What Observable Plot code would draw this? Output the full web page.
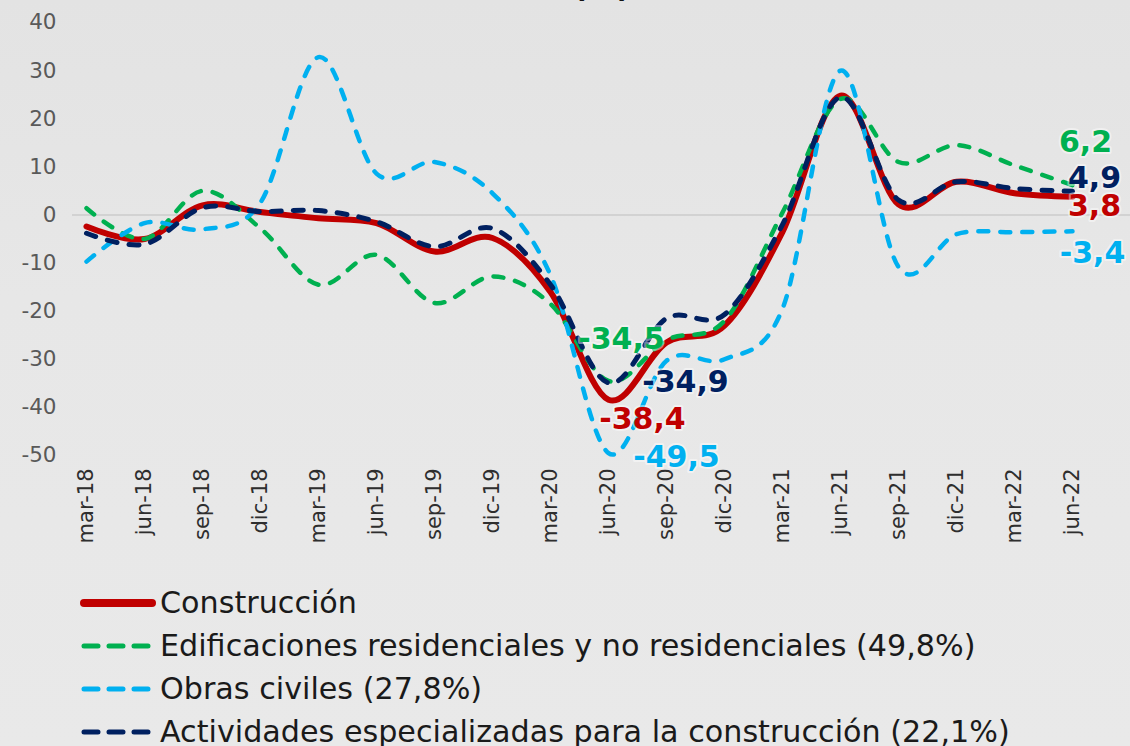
<!DOCTYPE html>
<html>
<head>
<meta charset="utf-8">
<script src="https://cdn.jsdelivr.net/npm/d3@7"></script>
<script src="https://cdn.jsdelivr.net/npm/@observablehq/plot@0.6"></script>
<style>
  html, body { margin: 0; padding: 0; }
  body {
    width: 1130px; height: 746px; overflow: hidden; position: relative;
    background: linear-gradient(180deg, #e3e3e3 0%, #e7e7e7 40%, #e9e9e9 100%);
    font-family: "DejaVu Sans", sans-serif;
  }
  #title { position: absolute; left: 573px; top: -28px; font-size: 30px; line-height: 30px; font-weight: bold; color: #111; }
  #chart { position: absolute; left: 0; top: 0; }
  #legend { position: absolute; left: 80px; top: 581px; }
  .row { display: flex; align-items: center; height: 43px; font-size: 30.2px; color: #1a1a1a; white-space: nowrap; }
  .row svg { margin-right: 4px; }
</style>
</head>
<body>
<div id="title">(%)</div>
<div id="chart"></div>
<div id="legend"></div>
<script>
// ---- data ----
const quarters = ["mar-18","jun-18","sep-18","dic-18","mar-19","jun-19","sep-19","dic-19","mar-20",
                  "jun-20","sep-20","dic-20","mar-21","jun-21","sep-21","dic-21","mar-22","jun-22"];
const construccion   = [-2.4, -5.0, 2.0, 0.6, -0.7, -1.7, -7.6, -4.8, -16.0, -38.4, -26.5, -23.0, -3.5, 24.8, 2.2, 6.9, 4.5, 3.8];
const edificaciones  = [1.4, -5.0, 5.0, -2.8, -14.5, -8.3, -18.3, -12.8, -18.5, -34.5, -26.0, -22.0, 0.5, 24.1, 11.0, 14.5, 10.3, 6.2];
const obrasCiviles   = [-9.7, -1.7, -3.0, 2.6, 32.8, 8.6, 11.0, 4.5, -12.5, -49.5, -30.3, -30.0, -19.5, 30.0, -10.8, -4.0, -3.6, -3.4];
const actividades    = [-3.8, -6.1, 1.5, 0.7, 0.9, -1.4, -6.6, -2.8, -14.5, -34.9, -21.5, -20.7, -2.0, 24.5, 3.1, 6.9, 5.5, 4.9];
const seriesNames = ["Construcción",
                     "Edificaciones residenciales y no residenciales (49,8%)",
                     "Obras civiles (27,8%)",
                     "Actividades especializadas para la construcción (22,1%)"];
const yTicks = [-50, -40, -30, -20, -10, 0, 10, 20, 30, 40];

// ---- styles ----
const styles = [
  {values: construccion,  color: "#c00000", width: 6,   dash: null},
  {values: edificaciones, color: "#00b050", width: 4.5, dash: "10,12"},
  {values: obrasCiviles,  color: "#00b0f0", width: 4.5, dash: "10,12"},
  {values: actividades,   color: "#002060", width: 5,   dash: "10,12"}
];
// label offsets (px) for the jun-20 trough and the last point
const troughOffsets = [[34, 20], [13, -42], [68, 4], [77, 0]];
const endOffsets    = [[22, 10], [13, -43], [20, 22], [22, -13]];
const fmt = v => v.toFixed(1).replace(".", ",");
const font = "DejaVu Sans, sans-serif";

const marks = [
  Plot.ruleY([0], {stroke: "#d2d2d2", strokeWidth: 2, insetLeft: -11, insetRight: -60}),
  Plot.axisY({ticks: yTicks, tickFormat: d => String(d), tickSize: 0, tickPadding: 27, fontSize: 21.5, fill: "#595959", label: null}),
  Plot.axisX({tickRotate: -90, tickSize: 0, tickPadding: 13, fontSize: 21, fill: "#2e2e2e", label: null})
];
styles.forEach(s => {
  const rows = quarters.map((q, i) => ({q, v: s.values[i]}));
  marks.push(Plot.line(rows, {x: "q", y: "v", stroke: s.color, strokeWidth: s.width,
    strokeDasharray: s.dash || undefined, strokeLinecap: "round", curve: "cardinal"}));
});
const labelMark = (idx, s, off) => Plot.text([{q: quarters[idx], v: s.values[idx]}], {
  x: "q", y: "v", text: d => fmt(d.v), dx: off[0], dy: off[1], fill: s.color,
  fontSize: 30, fontWeight: "bold", textAnchor: "middle", stroke: "white", strokeOpacity: 0.45, strokeWidth: 4
});
styles.forEach((s, k) => {
  marks.push(labelMark(9, s, troughOffsets[k]));
  marks.push(labelMark(17, s, endOffsets[k]));
});

const chart = Plot.plot({
  width: 1130, height: 580,
  marginLeft: 83, marginRight: 55, marginTop: 22, marginBottom: 125,
  style: {background: "transparent", fontFamily: font, overflow: "visible"},
  x: {type: "point", domain: quarters, padding: 0},
  y: {domain: [-50, 40]},
  marks
});
document.getElementById("chart").appendChild(chart);

// ---- legend ----
const legend = document.getElementById("legend");
styles.forEach((s, k) => {
  const row = document.createElement("div");
  row.className = "row";
  const w = 76;
  row.innerHTML = `<svg width="${w}" height="12"><line x1="4" y1="6" x2="${s.dash ? w - 8 : w - 4}" y2="6" stroke="${s.color}"
    stroke-width="${s.dash ? 5 : 8}" stroke-linecap="round" ${s.dash ? 'stroke-dasharray="14,11"' : ''}/></svg><span>${seriesNames[k]}</span>`;
  legend.appendChild(row);
});
</script>
</body>
</html>
